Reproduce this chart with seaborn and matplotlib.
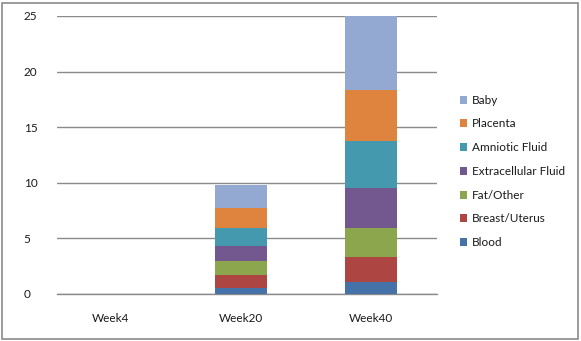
import matplotlib
matplotlib.use("Agg")
import matplotlib.pyplot as plt
import seaborn as sns
import pandas as pd
import numpy as np
from matplotlib.patches import Patch, Rectangle

weeks = ["Week4", "Week20", "Week40"]
components = ["Blood", "Breast/Uterus", "Fat/Other", "Extracellular Fluid",
              "Amniotic Fluid", "Placenta", "Baby"]
blood = [0, 0.57, 1.1]
breast_uterus = [0, 1.17, 2.25]
fat_other = [0, 1.26, 2.6]
extracellular = [0, 1.32, 3.6]
amniotic = [0, 1.64, 4.2]
placenta = [0, 1.8, 4.6]
baby = [0, 2.04, 6.65]
colors = ["#4472A9", "#AD4542", "#8BA64C", "#72588F", "#4599AF", "#DE843E", "#93A9D1"]

series = [blood, breast_uterus, fat_other, extracellular, amniotic, placenta, baby]

sns.set_style("white")
plt.rcParams["font.family"] = ["Lato", "DejaVu Sans"]

fig = plt.figure(figsize=(5.81, 3.41), dpi=100)
ax = fig.add_axes([57/581, 1-294/341, 380/581, 278/341])

cum = np.cumsum(np.array(series, dtype=float), axis=0)
# draw from top of stack down so lower segments overlay
for i in range(len(components)-1, -1, -1):
    df = pd.DataFrame({"week": weeks, "value": cum[i]})
    sns.barplot(data=df, x="week", y="value", order=weeks, color=colors[i],
                saturation=1, width=0.4, ax=ax, linewidth=0, zorder=3)

ax.set_xlim(-0.415, 2.508)
ax.set_ylim(0, 25)
ax.set_yticks([0, 5, 10, 15, 20, 25])
ax.yaxis.grid(True, color="#8a8a8a", linewidth=1.0, zorder=0)
ax.set_axisbelow(True)
for s in ["top", "right", "left"]:
    ax.spines[s].set_visible(False)
ax.spines["bottom"].set_color("#8a8a8a")
ax.spines["bottom"].set_linewidth(1.0)
ax.set_xlabel("")
ax.set_ylabel("")
ax.tick_params(axis="x", length=0, pad=14, labelsize=8.5, labelcolor="#1a1a1a")
ax.set_xticks(range(3))
ax.set_xticklabels(weeks)
ax.set_xticks([0.5, 1.5, 2.5], minor=True)
ax.tick_params(axis="x", which="minor", length=4, color="#8a8a8a", width=1, direction="out")
ax.tick_params(axis="y", length=0, pad=24, labelsize=8.5, labelcolor="#1a1a1a")
for lab in ax.get_yticklabels():
    lab.set_horizontalalignment("left")

handles = [Patch(facecolor=colors[i], edgecolor="none", label=components[i])
           for i in range(len(components)-1, -1, -1)]
leg = fig.legend(handles=handles, loc="upper left", bbox_to_anchor=(455/581, 1-90/341),
                 frameon=False, fontsize=8.5, handlelength=0.65, handleheight=0.65,
                 handletextpad=0.35, labelspacing=1.08, borderaxespad=0)
for t in leg.get_texts():
    t.set_color("#1a1a1a")

fig.patches.append(Rectangle((2/581, 2/341), 576/581, 336/341, transform=fig.transFigure,
                             fill=False, edgecolor="#8a8a8a", linewidth=1.2))

fig.savefig("out.png", dpi=100)
